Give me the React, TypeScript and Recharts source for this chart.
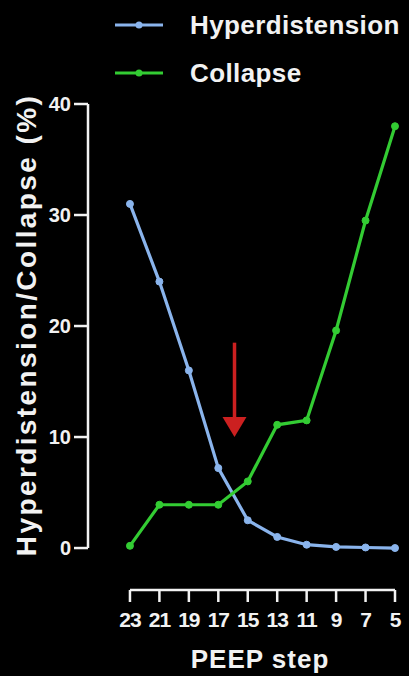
import React from 'react';
import { LineChart, Line, XAxis, YAxis, ReferenceLine, Legend, Label } from 'recharts';

// PEEP steps, from high to low pressure
const peepSteps = [23, 21, 19, 17, 15, 13, 11, 9, 7, 5];
const hyperdistension = [31, 24, 16, 7.2, 2.5, 1.0, 0.3, 0.1, 0.05, 0];
const collapse = [0.2, 3.9, 3.9, 3.9, 6.0, 11.1, 11.5, 19.6, 29.5, 38];
const yTicks = [0, 10, 20, 30, 40];
const seriesNames = ['Hyperdistension', 'Collapse'];

// optimal step marker (arrow), in data units
const arrowX = 15.9;
const arrowFrom = 18.5;
const arrowTo = 10;

const BLUE = '#8ab4ec';
const GREEN = '#33cc33';
const WHITE = '#f2f2f2';
const FONT = '"Liberation Sans", Arial, Helvetica, sans-serif';

const X_DOMAIN: [number, number] = [4.66, 25.85];
const Y_DOMAIN: [number, number] = [-3.78, 40];

const data = peepSteps.map((peep, i) => ({
  peep,
  hyper: hyperdistension[i],
  collapse: collapse[i],
}));

const renderLegend = (props: any) => {
  const items = [...(props.payload || [])].sort(
    (a: any, b: any) => seriesNames.indexOf(a.value) - seriesNames.indexOf(b.value)
  );
  return (
    <svg width={409} height={100} style={{ display: 'block' }}>
      {items.map((item: any, i: number) => {
        const cy = 25 + i * 48;
        return (
          <g key={item.value}>
            <line x1={115} x2={163} y1={cy} y2={cy} stroke={item.color} strokeWidth={3} />
            <circle cx={139} cy={cy} r={3.5} fill={item.color} />
            <text
              x={190}
              y={cy + 9}
              fill={WHITE}
              fontFamily={FONT}
              fontWeight="bold"
              fontSize={26}
              letterSpacing={0.4}
            >
              {item.value}
            </text>
          </g>
        );
      })}
    </svg>
  );
};

const Arrow = (props: any) => {
  const { x1, y1, x2, y2 } = props;
  return (
    <g>
      <line x1={x1} y1={y1} x2={x2} y2={y2 - 16} stroke="#cc2020" strokeWidth={3.5} />
      <polygon points={`${x2 - 12},${y2 - 20} ${x2 + 12},${y2 - 20} ${x2},${y2}`} fill="#cc2020" />
    </g>
  );
};

const App = () => {
  return (
    <div style={{ width: 409, height: 676, background: '#000', position: 'relative' }}>
      <style>{'body{margin:0;background:#000;}'}</style>
      <LineChart
        width={409}
        height={676}
        data={data}
        margin={{ top: 104, right: 9, bottom: 0, left: 0 }}
      >
        <XAxis
          dataKey="peep"
          type="number"
          domain={X_DOMAIN}
          reversed
          allowDataOverflow
          ticks={peepSteps}
          interval={0}
          height={86}
          axisLine={false}
          tickLine={{ stroke: WHITE, strokeWidth: 2.5 }}
          tickSize={12}
          tickMargin={10}
          tick={{ fill: WHITE, fontSize: 21, fontWeight: 'bold', fontFamily: FONT, letterSpacing: -1 }}
        >
          <Label
            value="PEEP step"
            position="insideBottom"
            offset={8}
            dx={16}
            fill={WHITE}
            fontSize={26}
            fontWeight="bold"
            fontFamily={FONT}
            letterSpacing={1}
          />
        </XAxis>
        <YAxis
          type="number"
          domain={Y_DOMAIN}
          allowDataOverflow
          ticks={yTicks}
          width={88}
          axisLine={false}
          tickLine={{ stroke: WHITE, strokeWidth: 2.5 }}
          tickSize={14}
          tickMargin={3}
          tick={{ fill: WHITE, fontSize: 20, fontWeight: 'bold', fontFamily: FONT }}
        >
          <Label
            content={() => (
              <text
                x={36}
                y={325}
                transform="rotate(-90, 36, 325)"
                textAnchor="middle"
                fill={WHITE}
                fontSize={28}
                fontWeight="bold"
                fontFamily={FONT}
                letterSpacing={2.4}
              >
                Hyperdistension/Collapse (%)
              </text>
            )}
          />
        </YAxis>
        <Legend
          layout="vertical"
          align="center"
          verticalAlign="middle"
          content={renderLegend}
          wrapperStyle={{ top: 0, left: 0, width: 409, height: 100 }}
        />
        {/* y axis line, from 0 to 40 only */}
        <ReferenceLine
          segment={[{ x: X_DOMAIN[1], y: 0 }, { x: X_DOMAIN[1], y: 40 }]}
          stroke={WHITE}
          strokeWidth={2.5}
          ifOverflow="visible"
        />
        {/* x axis line, spanning the first to last step */}
        <ReferenceLine
          segment={[{ x: peepSteps[0], y: Y_DOMAIN[0] }, { x: peepSteps[peepSteps.length - 1], y: Y_DOMAIN[0] }]}
          stroke={WHITE}
          strokeWidth={2.5}
          ifOverflow="visible"
        />
        <ReferenceLine
          segment={[{ x: arrowX, y: arrowFrom }, { x: arrowX, y: arrowTo }]}
          shape={Arrow}
          ifOverflow="visible"
        />
        <Line
          dataKey="hyper"
          name="Hyperdistension"
          stroke={BLUE}
          strokeWidth={3.2}
          dot={{ r: 3.5, fill: BLUE, stroke: BLUE, strokeWidth: 1 }}
          isAnimationActive={false}
        />
        <Line
          dataKey="collapse"
          name="Collapse"
          stroke={GREEN}
          strokeWidth={3.2}
          dot={{ r: 3.5, fill: GREEN, stroke: GREEN, strokeWidth: 1 }}
          isAnimationActive={false}
        />
      </LineChart>
    </div>
  );
};

export default App;
